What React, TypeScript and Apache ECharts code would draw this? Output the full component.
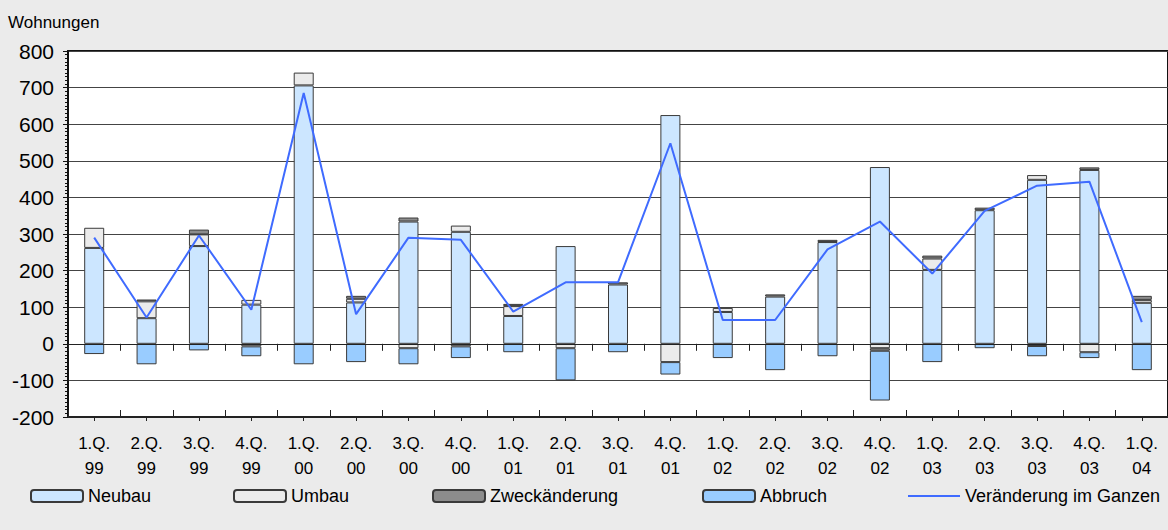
import React, { useEffect, useRef } from "react";
import * as echarts from "echarts";

const quarters = ["1.Q.", "2.Q.", "3.Q.", "4.Q.", "1.Q.", "2.Q.", "3.Q.", "4.Q.", "1.Q.", "2.Q.", "3.Q.", "4.Q.", "1.Q.", "2.Q.", "3.Q.", "4.Q.", "1.Q.", "2.Q.", "3.Q.", "4.Q.", "1.Q."];
const years = ["99", "99", "99", "99", "00", "00", "00", "00", "01", "01", "01", "01", "02", "02", "02", "02", "03", "03", "03", "03", "04"];

const neubau = [262, 70, 267, 107, 706, 113, 334, 306, 76, 267, 162, 625, 87, 129, 278, 483, 202, 365, 448, 475, 112];
const umbau = [55, 46, 32, 13, 35, 10, -12, 17, 27, -12, 0, -50, 11, 0, 0, -12, 31, 0, 13, -23, 8];
const zweck = [0, 5, 13, -7, 0, 8, 11, -7, 6, 0, 6, 0, 0, 6, 6, -7, 8, 7, -6, 7, 11];
const abbruch = [-28, -56, -18, -27, -56, -50, -44, -32, -23, -88, -23, -34, -39, -72, -34, -136, -50, -12, -28, -16, -72];
const gesamt = [290, 72, 296, 93, 685, 81, 290, 284, 88, 168, 168, 548, 65, 65, 258, 334, 192, 363, 432, 443, 59];

const yTicks = { min: -200, max: 800, step: 100 };

const FONT = "'Liberation Sans', Arial, sans-serif";

export default function App() {
  const ref = useRef<HTMLDivElement>(null);
  useEffect(() => {
    if (!ref.current) return;
    const chart = echarts.init(ref.current, null, { renderer: "svg" });
    const cats = quarters.map((q, i) => `${q}\n${years[i]}`);
    const nz = (a: number[]) => a.map((v) => (v === 0 ? "-" : v));
    const barStyle = (color: string) => ({ color, borderColor: "#3a3a3a", borderWidth: 1 });
    const legendBase = {
      top: 487,
      padding: 0,
      itemWidth: 52,
      itemHeight: 12,
      textStyle: { fontSize: 18, color: "#000", fontFamily: FONT },
      selectedMode: false as const,
    };
    const tickAxis = (extra: any) => ({
      type: "category",
      data: cats,
      gridIndex: 0,
      position: "bottom",
      boundaryGap: true,
      axisLabel: { show: false },
      splitLine: { show: false },
      z: 6,
      ...extra,
    });
    chart.setOption({
      animation: false,
      backgroundColor: "#ebebeb",
      textStyle: { fontFamily: FONT },
      graphic: [
        {
          type: "text",
          left: 8,
          top: 14,
          style: { text: "Wohnungen", fontSize: 17, fill: "#000", fontFamily: FONT },
        },
      ],
      grid: {
        left: 68,
        right: -2,
        top: 51,
        bottom: 113,
        show: true,
        backgroundColor: "#fff",
        borderColor: "#111",
        borderWidth: 2,
        containLabel: false,
      },
      legend: [
        { ...legendBase, left: 30, data: ["Neubau"] },
        { ...legendBase, left: 233, data: ["Umbau"] },
        { ...legendBase, left: 432, data: ["Zweckänderung"] },
        { ...legendBase, left: 702, data: ["Abbruch"] },
        {
          ...legendBase,
          left: 907,
          data: ["Veränderung im Ganzen"],
          itemStyle: { opacity: 0 },
          lineStyle: { color: "#3f6bff", width: 2 },
        },
      ],
      xAxis: [
        {
          type: "category",
          data: cats,
          position: "bottom",
          axisLine: { onZero: false, show: true, lineStyle: { color: "#222", width: 2 } },
          axisTick: { show: false },
          axisLabel: {
            interval: 0,
            fontSize: 17,
            lineHeight: 25,
            color: "#000",
            margin: 14,
            fontFamily: FONT,
          },
          splitLine: { show: false },
        },
        tickAxis({
          axisLine: { onZero: true, show: true, lineStyle: { color: "#222", width: 1 } },
          axisTick: { show: true, interval: 0, length: 7, inside: false, lineStyle: { color: "#222" } },
        }),
        tickAxis({
          axisLine: { onZero: true, show: false },
          axisTick: { show: true, interval: 0, length: 7, inside: true, lineStyle: { color: "#222" } },
        }),
        tickAxis({
          axisLine: { onZero: true, show: false },
          axisTick: { show: true, interval: 0, alignWithLabel: true, length: 4, inside: false, lineStyle: { color: "#222" } },
        }),
      ],
      yAxis: {
        type: "value",
        min: yTicks.min,
        max: yTicks.max,
        interval: yTicks.step,
        axisLine: { show: true, lineStyle: { color: "#111", width: 1.5 } },
        axisTick: { show: true, length: 5, lineStyle: { color: "#111" } },
        minorTick: { show: true, splitNumber: 10, length: 3, lineStyle: { color: "#111" } },
        axisLabel: { fontSize: 21, color: "#000", margin: 14, fontFamily: FONT },
        splitLine: { show: true, lineStyle: { color: "#444", width: 1 } },
      },
      series: [
        { name: "Neubau", type: "bar", stack: "t", barWidth: 20, data: nz(neubau), itemStyle: barStyle("#cce6ff") },
        { name: "Umbau", type: "bar", stack: "t", barWidth: 20, data: nz(umbau), itemStyle: barStyle("#ebebeb") },
        { name: "Zweckänderung", type: "bar", stack: "t", barWidth: 20, data: nz(zweck), itemStyle: barStyle("#8c8c8c") },
        { name: "Abbruch", type: "bar", stack: "t", barWidth: 20, data: nz(abbruch), itemStyle: barStyle("#99ccff") },
        {
          name: "Veränderung im Ganzen",
          type: "line",
          data: gesamt,
          symbol: "none",
          lineStyle: { color: "#3f6bff", width: 2 },
          itemStyle: { color: "#3f6bff" },
          z: 10,
        },
      ],
    });
    return () => chart.dispose();
  }, []);
  return (
    <div
      ref={ref}
      style={{ position: "fixed", left: 0, top: 0, width: 1168, height: 530 }}
    />
  );
}
